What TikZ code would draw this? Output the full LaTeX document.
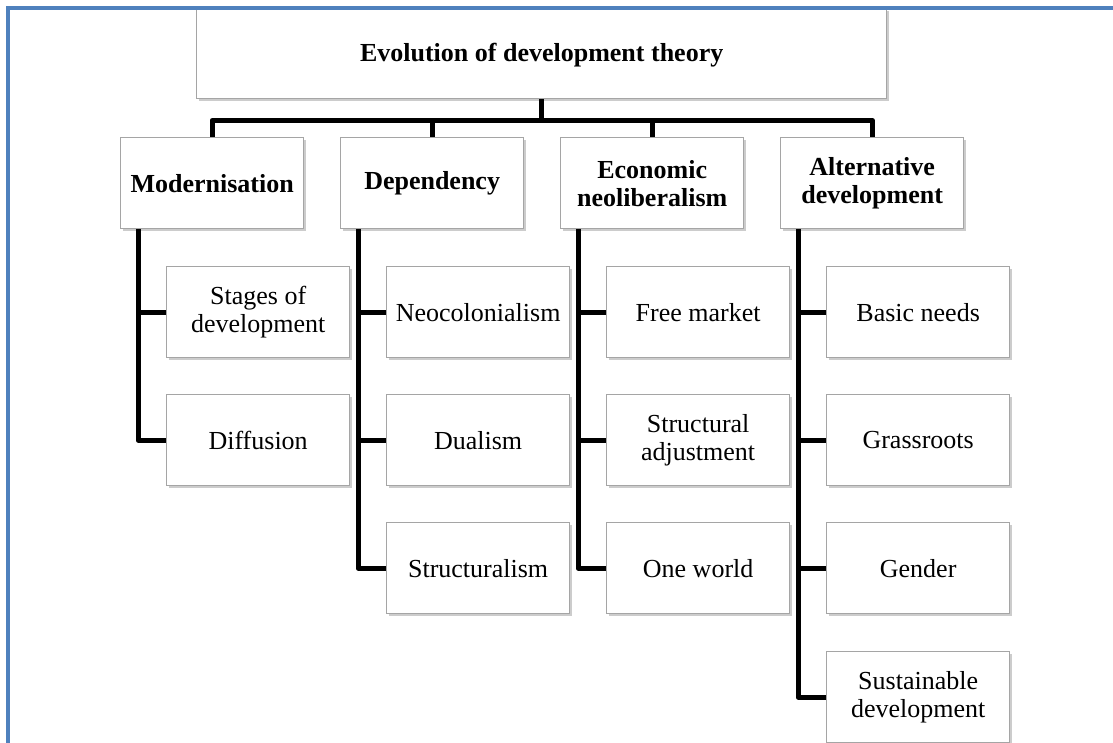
\documentclass[tikz,border=0pt]{standalone}
\usepackage{fontspec}
\setmainfont{Liberation Serif}
\usetikzlibrary{shadows}
\definecolor{frameblue}{RGB}{79,129,189}
\definecolor{boxgray}{RGB}{165,165,165}
\begin{document}
\begin{tikzpicture}[x=1pt,y=-1pt,
  box/.style={draw=boxgray, line width=1.3pt, fill=white,
    minimum width=183pt, minimum height=91pt, inner sep=2pt,
    align=center, anchor=north west,
    font=\fontsize{26}{28}\selectfont,
    drop shadow={shadow xshift=2.5pt, shadow yshift=-2.5pt, fill=black, opacity=0.2}},
  head/.style={box, font=\fontsize{26}{28}\selectfont\bfseries},
  conn/.style={line width=5pt, line join=round}]
\useasboundingbox (0,0) rectangle (1113,743);

% top-level title; its upper edge runs under the frame line
\node[head, minimum width=690pt, minimum height=90pt, text height=22pt, text depth=6pt] (root) at (196,8) {Evolution of development theory};

% four schools of thought
\node[head] (mod) at (120,137) {Modernisation};
\node[head] (dep) at (340,137) {Dependency};
\node[head] (eco) at (560,137) {Economic\\neoliberalism};
\node[head] (alt) at (780,137) {Alternative\\development};

% Modernisation
\node[box] (m1) at (166,266) {Stages of\\development};
\node[box] (m2) at (166,394) {Diffusion};
% Dependency
\node[box] (d1) at (386,266) {Neocolonialism};
\node[box] (d2) at (386,394) {Dualism};
\node[box] (d3) at (386,522) {Structuralism};
% Economic neoliberalism
\node[box] (e1) at (606,266) {Free market};
\node[box] (e2) at (606,394) {Structural\\adjustment};
\node[box] (e3) at (606,522) {One world};
% Alternative development
\node[box] (a1) at (826,266) {Basic needs};
\node[box] (a2) at (826,394) {Grassroots};
\node[box] (a3) at (826,522) {Gender};
\node[box] (a4) at (826,651) {Sustainable\\development};

% bus from the title to the four schools
\draw[conn] (root.south) -- ++(0,21) coordinate (bus);
\draw[conn] (mod.north) |- (bus) -| (alt.north);
\draw[conn] (dep.north) -- (dep.north |- bus);
\draw[conn] (eco.north) -- (eco.north |- bus);

% trunks down the left side of each school
\foreach \p/\c in {mod/m1, mod/m2, dep/d1, dep/d2, dep/d3, eco/e1, eco/e2, eco/e3, alt/a1, alt/a2, alt/a3, alt/a4}
  \draw[conn] ([xshift=18pt]\p.south west) |- (\c.west);

% frame
\draw[frameblue, line width=3.2pt] (8,760) -- (8,8) -- (1130,8);
\end{tikzpicture}
\end{document}
